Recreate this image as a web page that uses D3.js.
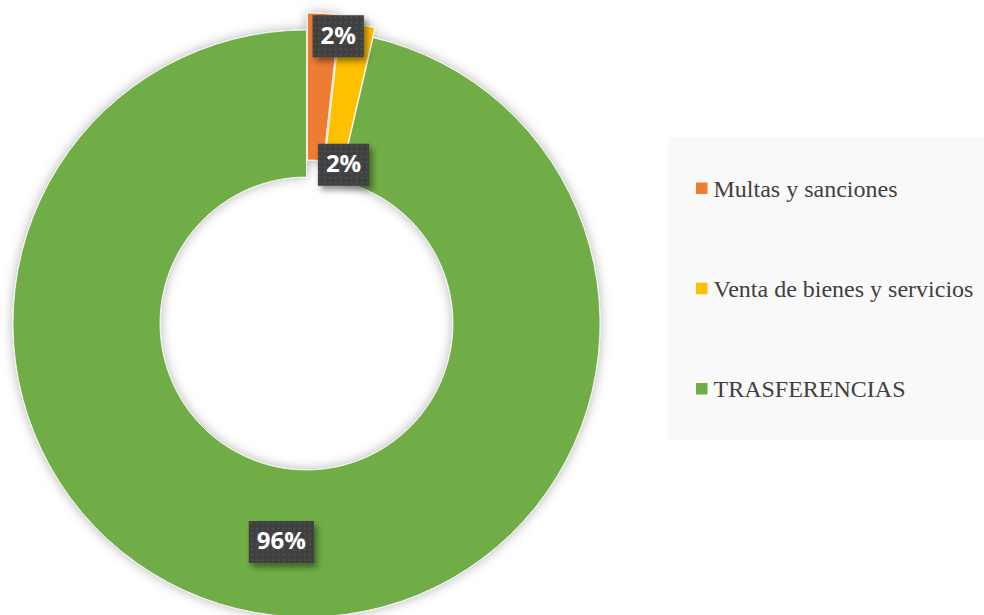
<!DOCTYPE html>
<html>
<head>
<meta charset="utf-8">
<script src="https://cdn.jsdelivr.net/npm/d3@7"></script>
<style>
body{margin:0;background:#fff;}
svg{display:block;}
</style>
</head>
<body>
<svg id="chart" width="984" height="615"></svg>
<script>
'use strict';
// data
var categories = ['Multas y sanciones','Venta de bienes y servicios','TRASFERENCIAS'];
var values = [1.75, 1.9, 96.35];
var colors = ['#ED7D31','#FFC000','#70AD47'];

var width = 984, height = 615,
	cx = 306.5, cy = 323.5,
	outerR = 293.5, innerR = 146.5,
	explode = [17, 10, 0];

var svg = d3.select('#chart');
var defs = svg.append('defs');

var sh = defs.append('filter').attr('id','donutShadow')
	.attr('x','-20%').attr('y','-20%').attr('width','140%').attr('height','140%');
sh.append('feDropShadow').attr('dx',0).attr('dy',0).attr('stdDeviation',6)
	.attr('flood-color','#000').attr('flood-opacity',0.3);

var lsh = defs.append('filter').attr('id','labelShadow')
	.attr('x','-30%').attr('y','-30%').attr('width','170%').attr('height','170%');
lsh.append('feDropShadow').attr('dx',3).attr('dy',4).attr('stdDeviation',3)
	.attr('flood-color','#000').attr('flood-opacity',0.45);

var pat = defs.append('pattern').attr('id','dots')
	.attr('patternUnits','userSpaceOnUse').attr('width',5.3).attr('height',5.3);
pat.append('rect').attr('width',5.3).attr('height',5.3).attr('fill','#404040');
pat.append('rect').attr('x',1.5).attr('y',1.5).attr('width',1.6).attr('height',1.6).attr('fill','#585858');

var total = d3.sum(values);
var pct = d3.format('.0%');
var pie = d3.pie().sort(null).value(function(d){return d;});
var arcs = pie(values);
var arc = d3.arc().innerRadius(innerR).outerRadius(outerR);

var offset = function(d,i){
	var a = (d.startAngle + d.endAngle)/2;
	return [Math.sin(a)*explode[i], -Math.cos(a)*explode[i]];
};

var donut = svg.append('g').attr('id','donut')
	.attr('transform',d3.zoomIdentity.translate(cx,cy))
	.style('filter','url(#donutShadow)');

donut.selectAll('path')
	.data(arcs)
	.enter()
	.append('path')
	.attr('transform',function(d,i){var o=offset(d,i);return 'translate('+o[0]+','+o[1]+')';})
	.attr('d',arc)
	.style('fill',function(d,i){return colors[i];})
	.style('stroke','#fff')
	.style('stroke-width','0.8px');

// label anchors: small slices at their end edge, big one at centroid
var edgePoint = function(angle, r){
	return d3.arc().innerRadius(r).outerRadius(r).centroid({startAngle:angle,endAngle:angle});
};
var labelPos = function(d,i){
	if(i===0) return edgePoint(d.endAngle, outerR-4.5);
	if(i===1) return edgePoint(d.endAngle, innerR+16.5);
	return arc.centroid(d);
};

var labels = svg.append('g').attr('id','labels')
	.attr('transform',d3.zoomIdentity.translate(cx,cy));

labels.selectAll('g')
	.data(arcs)
	.enter()
	.append('g')
	.attr('transform',function(d,i){var p=labelPos(d,i);return 'translate('+p[0]+','+p[1]+')';})
	.each(function(d){
		var g = d3.select(this);
		var box = g.append('rect').attr('filter','url(#labelShadow)').style('fill','url(#dots)');
		var t = g.append('text')
			.text(pct(d.value/total))
			.attr('y',1)
			.style('font-family','"Open Sans", sans-serif')
			.style('font-weight','bold')
			.style('font-size','24px')
			.style('fill','#fff')
			.style('dominant-baseline','middle')
			.style('text-anchor','middle');
		var w = t.node().getComputedTextLength() + 16;
		box.attr('x',-w/2).attr('y',-21).attr('width',w).attr('height',42);
	});

// legend
var legend = svg.append('g').attr('id','legend');
legend.append('rect')
	.attr('x',668).attr('y',137).attr('width',330).attr('height',303)
	.style('fill','#f9f9f9');

var ly = d3.scalePoint().domain(categories).range([188.5,389]);

var item = legend.selectAll('g.item')
	.data(categories)
	.enter()
	.append('g').attr('class','item')
	.attr('transform',function(d){return d3.zoomIdentity.translate(696,ly(d));});
item.append('rect')
	.attr('x',0).attr('y',-6).attr('width',11.5).attr('height',11.5)
	.style('fill',function(d,i){return colors[i];});
item.append('text')
	.text(function(d){return d;})
	.attr('x',17.5).attr('y',8)
	.style('font-family','"Liberation Serif", "Times New Roman", serif')
	.style('font-size','24px')
	.style('fill','#404040');
</script>
</body>
</html>
